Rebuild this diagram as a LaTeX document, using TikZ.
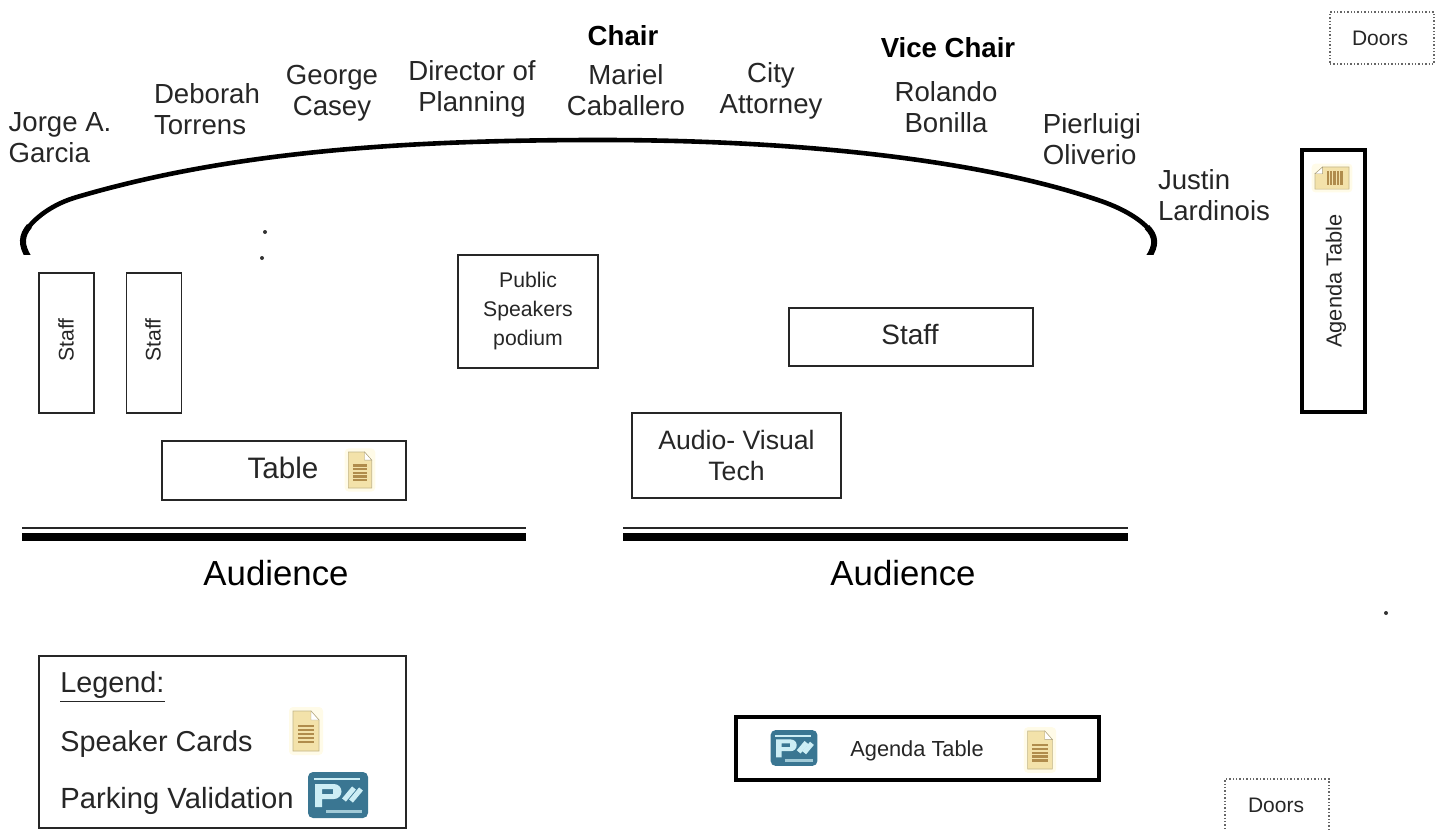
\documentclass[tikz,border=0pt]{standalone}
\usepackage{fontspec}
\setmainfont{Liberation Sans}
\usetikzlibrary{positioning}
\definecolor{cardfill}{RGB}{243,226,170}
\definecolor{cardglow}{RGB}{255,251,232}
\definecolor{cardline}{RGB}{176,140,76}
\definecolor{parkblue}{RGB}{58,118,146}
\definecolor{parkpale}{RGB}{205,238,245}
\tikzset{
	seat/.style={align=left,inner sep=0pt,font=\fontsize{13.8}{15.6}\selectfont,text=black!85},
	seatc/.style={seat,align=center},
	title/.style={inner sep=0pt,font=\fontsize{13.8}{15.6}\selectfont\bfseries},
	box/.style={draw=black!85,line width=0.7pt,inner sep=0pt,align=center,text=black!85},
	heavybox/.style={box,draw=black,line width=1.6pt},
	doorbox/.style={box,draw=black!60,densely dotted,line width=0.7pt,minimum width=52pt,minimum height=26pt},
	doorlabel/.style={inner sep=0pt,font=\fontsize{10.5}{12}\selectfont,text=black!85},
	small/.style={font=\fontsize{10.6}{14.6}\selectfont},
	agenda/.style={inner sep=0pt,font=\fontsize{10.9}{13}\selectfont,text=black!85},
	pics/cardicon/.style={code={
		\fill[cardglow,rounded corners=2pt] (-17,-24) rectangle (17,24);
		\fill[cardfill,draw=cardfill!80!black,line width=0.3pt] (-13,-20) -- (5,-20) -- (13,-11) -- (13,20) -- (-13,20) -- cycle;
		\fill[white,draw=cardfill!70!black,line width=0.2pt] (5,-20) -- (5,-11) -- (13,-11) -- cycle;
		\foreach \ly in {-5,-1,...,12}
			\draw[cardline,line width=1.2pt] (-8,\ly) -- (8,\ly);
	}},
	pics/parkicon/.style={code={
		\fill[parkblue,rounded corners=2.5pt] (-30,-23) rectangle (30,23);
		\draw[parkpale,line width=1pt] (-24,-16) -- (22,-16);
		\fill[parkpale,even odd rule] (-23,-11) -- (-4,-11) arc[start angle=-90,end angle=90,radius=7.5] -- (-16,4) -- (-16,12) -- (-23,12) -- cycle (-16,-6) -- (-16,-1) -- (-5,-1) -- (-5,-6) -- cycle;
		\draw[parkpale,line width=2.5pt] (6,5) -- (16,-7);
		\draw[parkpale,line width=2.5pt] (13,6) -- (23,-6);
		\draw[parkpale!70!parkblue,line width=1.5pt] (-12,16) -- (24,16);
	}}
}

\begin{document}
\begin{tikzpicture}[x=0.5pt,y=-0.5pt]
\useasboundingbox (0,0) rectangle (1440,830);

\begin{scope}
\clip (0,0) rectangle (1440,254);
\draw[line width=2.3pt,line cap=round] (29.5,225.9) .. controls (37.75,216.25) and (53,204) .. (77,197) .. controls (230,152) and (400,140) .. (600,140) .. controls (800,140) and (980,160) .. (1098,200) .. controls (1122,208) and (1138,218) .. (1146.9,227);
\draw[line width=3pt] (29,258) .. controls (20.5,245) and (21.25,235.5) .. (29.5,225.9);
\draw[line width=3pt] (1146.9,227) .. controls (1155.75,236) and (1157,245) .. (1148,258);
\end{scope}

\node[seat] (garcia) at (60,137.5) {Jorge A.\\Garcia};
\node[seat] (torrens) at (207,109) {Deborah\\Torrens};
\node[seatc] (casey) at (332,93) {George\\Casey};
\node[seatc] (planning) at (472,89) {Director of\\Planning};
\node[title] (chairtitle) at (623,36) {Chair};
\node[seatc] (caballero) at (626,90) {Mariel\\Caballero};
\node[seatc] (attorney) at (771,91) {City\\Attorney};
\node[title] (vicetitle) at (948,48) {Vice Chair};
\node[seatc] (bonilla) at (946,107) {Rolando\\Bonilla};
\node[seat] (oliverio) at (1092,139) {Pierluigi\\Oliverio};
\node[seat] (lardinois) at (1214,195) {Justin\\Lardinois};

\node[box,minimum width=27.5pt,minimum height=70pt] (staffa) at (66.5,343) {};
\node[inner sep=0pt,small,rotate=90,text=black!85] (staffalabel) at (66,340) {Staff};
\node[box,minimum width=27.5pt,minimum height=70pt] (staffb) at (154,343) {};
\node[inner sep=0pt,small,rotate=90,text=black!85] (staffblabel) at (153,340) {Staff};
\node[box,small,minimum width=70pt,minimum height=56.5pt] (podium) at (528,311.5) {};
\node[inner sep=0pt,small,align=center,text=black!85] (podiumlabel) at (528,311) {Public\\Speakers\\podium};
\node[box,minimum width=122pt,minimum height=29pt] (staffc) at (911,337) {};
\node[inner sep=0pt,font=\fontsize{14}{16}\selectfont,text=black!85] (stafflabel) at (910,335) {Staff};
\node[box,minimum width=104.5pt,minimum height=42.5pt,font=\fontsize{13.3}{15.6}\selectfont] (avtech) at (736.5,455.5) {Audio- Visual\\Tech};
\node[box,minimum width=122pt,minimum height=29.5pt] (table) at (284,470.5) {};
\node[inner sep=0pt,font=\fontsize{14.8}{16}\selectfont,text=black!85] (tablelabel) at (283,468) {Table};
\pic[scale=0.9] at (360,470) {cardicon};

\foreach \xa/\xb in {22/526,623/1128}{
	\draw[black!85,line width=0.9pt] (\xa,528) -- (\xb,528);
	\draw[line width=4pt] (\xa,537) -- (\xb,537);
}
\node[inner sep=0pt,font=\fontsize{17.4}{20}\selectfont] (audleft) at (276,573) {Audience};
\node[inner sep=0pt,font=\fontsize{17.4}{20}\selectfont] (audright) at (903,573) {Audience};

\node[box,minimum width=183.5pt,minimum height=86pt] (legend) at (222.5,742) {};
\node[seat,anchor=west,font=\fontsize{14.4}{16}\selectfont] (legendtitle) at (60,687) {\underline{Legend:}};
\node[seat,anchor=west,font=\fontsize{14.4}{16}\selectfont] (legendcards) at (60,744) {Speaker Cards};
\node[seat,anchor=west,font=\fontsize{14.6}{16}\selectfont] (legendpark) at (60,801) {Parking Validation};
\pic at (306,731) {cardicon};
\pic at (338,795) {parkicon};

\node[heavybox,minimum width=181.5pt,minimum height=31.5pt] (agendabottom) at (917.5,748.5) {};
\node[agenda] (agendalabel) at (917,751) {Agenda Table};
\pic[scale=0.78] at (794,748) {parkicon};
\pic[scale=0.95] at (1040,750) {cardicon};

\node[heavybox,minimum width=31.5pt,minimum height=131pt] (agendaright) at (1333.5,281) {};
\node[agenda,rotate=90] (agendaside) at (1336,281) {Agenda Table};
\pic[scale=0.85,rotate=90] at (1332,178) {cardicon};

\node[doorbox] (doorstop) at (1382,38) {};
\node[doorlabel] (doorstoplabel) at (1380,38) {Doors};
\node[doorbox,minimum height=28pt] (doorsbottom) at (1277,807) {};
\node[doorlabel] (doorsbottomlabel) at (1276,805) {Doors};

\foreach \dx/\dy in {265/232,262/258,1386/613}
	\fill[black!80] (\dx,\dy) circle (1pt);
\end{tikzpicture}
\end{document}
